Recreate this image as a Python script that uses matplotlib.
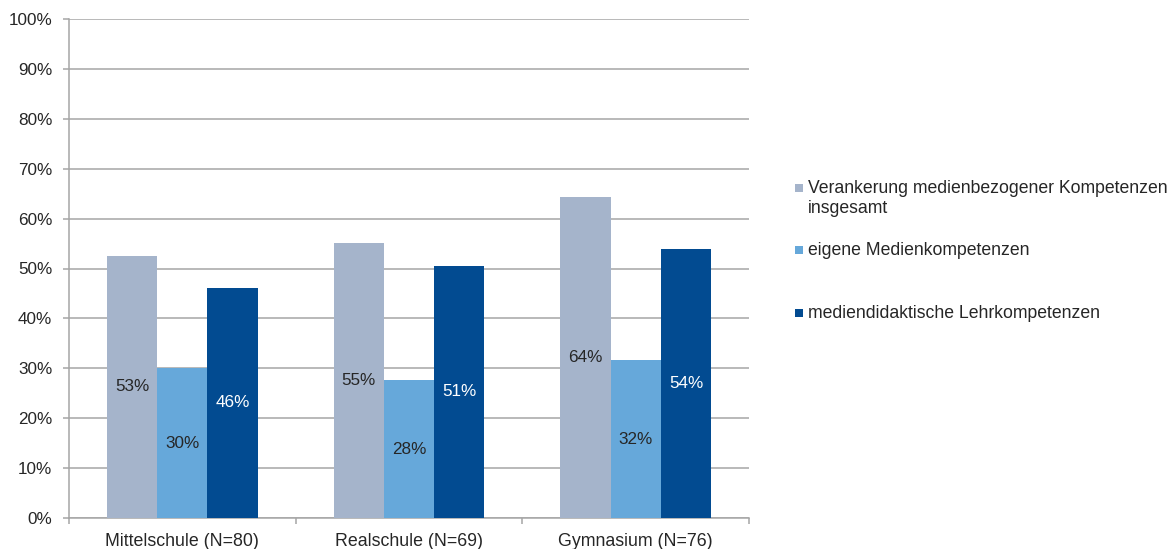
import numpy as np
import matplotlib.pyplot as plt
from matplotlib.patches import Rectangle

plt.rcParams['font.family'] = ['Liberation Sans', 'DejaVu Sans']

# ── Data ──────────────────────────────────────────────────────────────────
schools = ["Mittelschule (N=80)", "Realschule (N=69)", "Gymnasium (N=76)"]
series_names = [
    "Verankerung medienbezogener Kompetenzen\ninsgesamt",
    "eigene Medienkompetenzen",
    "mediendidaktische Lehrkompetenzen",
]
verankerung = [52.6, 55.1, 64.4]
eigene = [30.0, 27.6, 31.6]
lehr = [46.1, 50.6, 53.9]

colors = ["#A5B4CB", "#66A8DA", "#024B91"]
label_colors = ["#262626", "#262626", "#FFFFFF"]
GRID = "#A6A6A6"
TXT = "#262626"

# ── Figure ────────────────────────────────────────────────────────────────
fig = plt.figure(figsize=(11.76, 5.49), dpi=100)
ax = fig.add_axes([69 / 1176, 1 - 518 / 549, (749 - 69) / 1176, (518 - 19) / 549])

x = np.arange(len(schools))
w = 0.222
for i, vals in enumerate([verankerung, eigene, lehr]):
    pos = x + (i - 1) * w
    bars = ax.bar(pos, vals, width=w, color=colors[i], zorder=3, linewidth=0)
    for b, v in zip(bars, vals):
        ax.text(b.get_x() + b.get_width() / 2, v / 2, f"{v:.0f}%",
                ha="center", va="center", fontsize=12.3,
                color=label_colors[i], zorder=4)

ax.set_xlim(-0.5, 2.5)
ax.set_ylim(0, 100)
ax.set_yticks(np.arange(0, 101, 10))
ax.set_yticklabels([f"{v}%" for v in range(0, 101, 10)])
ax.yaxis.grid(True, color=GRID, linewidth=1.1, zorder=0)
ax.tick_params(axis="y", length=4, color=GRID, width=1.1, pad=8,
               labelsize=12.3, labelcolor=TXT)

ax.set_xticks(x)
ax.set_xticklabels(schools)
ax.set_xticks([-0.5, 0.5, 1.5, 2.5], minor=True)
ax.tick_params(axis="x", which="major", length=0, pad=11,
               labelsize=12.8, labelcolor=TXT)
ax.tick_params(axis="x", which="minor", length=4, color=GRID, width=1.1)

for s in ["top", "right"]:
    ax.spines[s].set_visible(False)
for s in ["left", "bottom"]:
    ax.spines[s].set_color(GRID)
    ax.spines[s].set_linewidth(1.1)

# ── Legend (placed by hand like the original) ─────────────────────────────
legend_y = [188, 250, 313]
for name, c, yp in zip(series_names, colors, legend_y):
    fig.add_artist(Rectangle((795 / 1176, 1 - (yp + 4) / 549), 8 / 1176, 8 / 549,
                             transform=fig.transFigure, color=c, lw=0))
    fig.text(808 / 1176, 1 - (yp - 8) / 549, name, ha="left", va="top",
             fontsize=12.7, color=TXT, linespacing=1.2)

fig.savefig("out.png", dpi=100)
